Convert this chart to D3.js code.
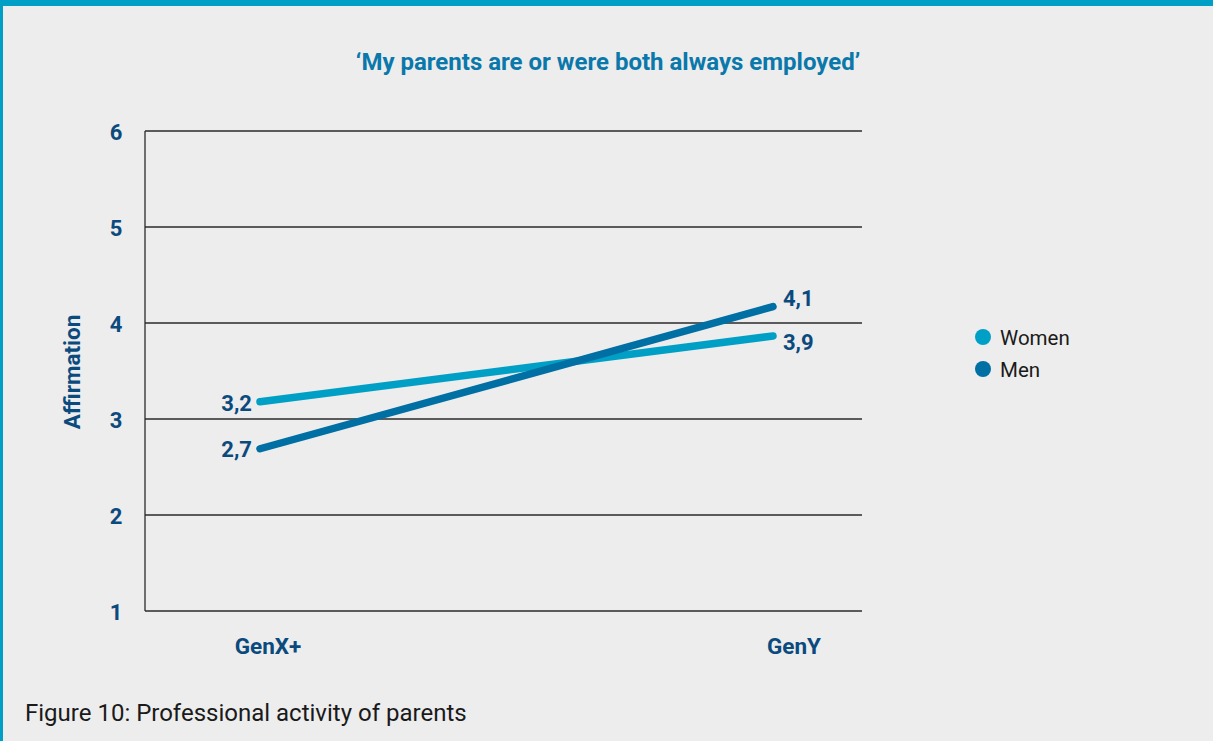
<!DOCTYPE html>
<html>
<head>
<meta charset="utf-8">
<script src="https://cdn.jsdelivr.net/npm/d3@7"></script>
<style>
  html, body { margin: 0; padding: 0; background: #ededed; }
  svg { display: block; font-family: Roboto, "Noto Sans", sans-serif; }
</style>
</head>
<body>
<svg id="chart" width="1213" height="741"></svg>
<script>
var generations = ["GenX+", "GenY"];
var women = [3.18, 3.865];
var men = [2.69, 4.17];
var womenLabels = ["3,2", "3,9"];
var menLabels = ["2,7", "4,1"];
var yTicks = [1, 2, 3, 4, 5, 6];
var seriesNames = ["Women", "Men"];

var svg = d3.select("#chart"),
    width = +svg.attr("width"),
    height = +svg.attr("height"),
    margin = { top: 131, right: 351, bottom: 130, left: 145 };

var colors = { Women: "#00a0c6", Men: "#006fa3" };
var textBlue = "#0b4a7d";
var labelSize = 22;

// frame
svg.append("rect").attr("width", width).attr("height", height).attr("fill", "#ededed");
svg.append("rect").attr("x", 0).attr("y", 0).attr("width", width).attr("height", 6).attr("fill", "#00a0c6");
svg.append("rect").attr("x", 0).attr("y", 0).attr("width", 3).attr("height", height).attr("fill", "#00a0c6");

var y = d3.scaleLinear()
    .domain([1, 6])
    .range([height - margin.bottom, margin.top]);

var x = d3.scalePoint()
    .domain(generations)
    .range([260, 773]);

var xLabel = d3.scalePoint()
    .domain(generations)
    .range([268, 794]);

// gridlines
svg.append("g")
    .selectAll("line")
    .data(yTicks)
    .enter().append("line")
    .attr("x1", margin.left)
    .attr("x2", width - margin.right)
    .attr("y1", function (d) { return y(d); })
    .attr("y2", function (d) { return y(d); })
    .attr("stroke", "#2a2a2a")
    .attr("stroke-width", 1.3);

svg.append("line")
    .attr("x1", margin.left).attr("x2", margin.left)
    .attr("y1", y(6)).attr("y2", y(1))
    .attr("stroke", "#2a2a2a")
    .attr("stroke-width", 1.3);

// y tick labels
svg.append("g")
    .selectAll("text")
    .data(yTicks)
    .enter().append("text")
    .attr("x", 116)
    .attr("y", function (d) { return y(d) + 9; })
    .attr("text-anchor", "middle")
    .attr("font-size", labelSize)
    .attr("font-weight", "bold")
    .attr("fill", textBlue)
    .text(function (d) { return d; });

// y axis title
svg.append("text")
    .attr("transform", "translate(80," + ((y(1) + y(6)) / 2 + 1) + ") rotate(-90)")
    .attr("text-anchor", "middle")
    .attr("font-size", 22.5)
    .attr("font-weight", "bold")
    .attr("fill", textBlue)
    .text("Affirmation");

// x labels
svg.append("g")
    .selectAll("text")
    .data(generations)
    .enter().append("text")
    .attr("x", function (d) { return xLabel(d); })
    .attr("y", 654)
    .attr("text-anchor", "middle")
    .attr("font-size", 22.5)
    .attr("font-weight", "bold")
    .attr("fill", textBlue)
    .text(function (d) { return d; });

// title
svg.append("text")
    .attr("x", 608)
    .attr("y", 70)
    .attr("text-anchor", "middle")
    .attr("font-size", 24)
    .attr("font-weight", "bold")
    .attr("fill", "#0a78aa")
    .text("\u2018My parents are or were both always employed\u2019");

var line = d3.line()
    .x(function (d, i) { return x(generations[i]); })
    .y(function (d) { return y(d); });

var series = [
    { name: "Women", values: women, labels: womenLabels },
    { name: "Men", values: men, labels: menLabels }
];

series.forEach(function (s) {
    svg.append("path")
        .datum(s.values)
        .attr("fill", "none")
        .attr("stroke", colors[s.name])
        .attr("stroke-width", 7.5)
        .attr("stroke-linecap", "round")
        .attr("d", line);
});

// value labels
function addLabel(s, i, dy) {
    var left = i === 0;
    svg.append("text")
        .attr("x", x(generations[i]) + (left ? -8 : 10))
        .attr("y", y(s.values[i]) + dy)
        .attr("text-anchor", left ? "end" : "start")
        .attr("font-size", labelSize)
        .attr("font-weight", "bold")
        .attr("fill", textBlue)
        .text(s.labels[i]);
}
addLabel(series[0], 0, 9);
addLabel(series[1], 0, 8);
addLabel(series[1], 1, -1);
addLabel(series[0], 1, 14);

// legend
var legend = svg.append("g")
    .selectAll("g")
    .data(seriesNames)
    .enter().append("g")
    .attr("transform", function (d, i) { return "translate(983," + (337 + i * 32) + ")"; });

legend.append("circle")
    .attr("r", 8)
    .attr("fill", function (d) { return colors[d]; });

legend.append("text")
    .attr("x", 17)
    .attr("y", 7.5)
    .attr("font-size", 20.5)
    .attr("fill", "#1a1a1a")
    .text(function (d) { return d; });

// caption
svg.append("text")
    .attr("x", 25)
    .attr("y", 721)
    .attr("font-size", 24)
    .attr("fill", "#1a1a1a")
    .text("Figure 10: Professional activity of parents");
</script>
</body>
</html>
